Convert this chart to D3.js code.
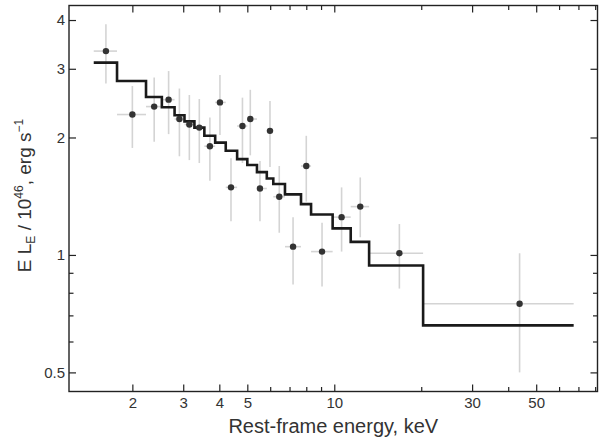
<!DOCTYPE html>
<html>
<head>
<meta charset="utf-8">
<script src="https://cdn.jsdelivr.net/npm/d3@7"></script>
<style>
  body { margin: 0; background: #fff; }
  svg text { font-family: "Liberation Sans", Arial, sans-serif; fill: #333; }
</style>
</head>
<body>
<svg id="chart" width="610" height="439"></svg>
<script>
// spectral bins (keV) and the model level in each bin
const binEdges = [1.47, 1.77, 2.23, 2.53, 2.80, 3.03, 3.28, 3.55, 3.87, 4.21, 4.61, 5.00, 5.40, 5.84, 6.15, 6.75, 7.67, 8.31, 9.87, 11.4, 13.2, 20.3, 67.4];
const modelLevels = [3.11, 2.79, 2.54, 2.39, 2.28, 2.20, 2.12, 2.02, 1.94, 1.85, 1.76, 1.70, 1.63, 1.57, 1.52, 1.43, 1.35, 1.27, 1.17, 1.08, 0.94, 0.66];

// measured points, one per bin
const pointEnergy = [1.62, 2.00, 2.38, 2.67, 2.91, 3.15, 3.41, 3.71, 4.02, 4.39, 4.81, 5.12, 5.53, 5.99, 6.45, 7.20, 8.00, 9.07, 10.6, 12.3, 16.8, 43.8];
const pointLum = [3.33, 2.29, 2.40, 2.50, 2.23, 2.16, 2.12, 1.90, 2.46, 1.49, 2.14, 2.23, 1.48, 2.08, 1.41, 1.05, 1.69, 1.02, 1.25, 1.33, 1.01, 0.75];
const lumHigh = [3.90, 2.71, 2.85, 2.96, 2.67, 2.57, 2.51, 2.25, 2.89, 1.77, 2.53, 2.65, 1.74, 2.48, 1.69, 1.25, 2.02, 1.21, 1.49, 1.58, 1.20, 1.01];
const lumLow = [2.75, 1.88, 1.95, 2.04, 1.79, 1.75, 1.72, 1.55, 2.03, 1.22, 1.72, 1.80, 1.22, 1.68, 1.14, 0.84, 1.37, 0.83, 1.02, 1.11, 0.82, 0.50];

// ticks
const xMajor = [2, 3, 4, 5, 10, 30, 50];
const xMinor = [6, 7, 8, 9, 20, 40, 60, 70, 80];
const yMajor = [0.5, 1, 2, 3, 4];
const yMinor = [0.6, 0.7, 0.8, 0.9];

const margin = {top: 5.5, right: 12.5, bottom: 47.5, left: 69};
const svg = d3.select("#chart");
const width = +svg.attr("width") - margin.left - margin.right;
const height = +svg.attr("height") - margin.top - margin.bottom;

const x = d3.scaleLog().domain([1.207, 81.5]).range([0, width]);
const y = d3.scaleLog().domain([0.4467, 4.358]).range([height, 0]);

const plot = svg.append("g")
  .attr("transform", "translate(" + margin.left + "," + margin.top + ")");

// error bars
const errColor = "#d4d4d4";
plot.selectAll("line.xerr")
  .data(pointEnergy)
  .enter().append("line")
  .attr("class", "xerr")
  .attr("x1", (d, i) => x(binEdges[i]))
  .attr("x2", (d, i) => x(binEdges[i + 1]))
  .attr("y1", (d, i) => y(pointLum[i]))
  .attr("y2", (d, i) => y(pointLum[i]))
  .attr("stroke", errColor)
  .attr("stroke-width", 1.6);

plot.selectAll("line.yerr")
  .data(pointEnergy)
  .enter().append("line")
  .attr("class", "yerr")
  .attr("x1", d => x(d))
  .attr("x2", d => x(d))
  .attr("y1", (d, i) => y(lumHigh[i]))
  .attr("y2", (d, i) => y(lumLow[i]))
  .attr("stroke", errColor)
  .attr("stroke-width", 1.6);

// model histogram
const stepData = binEdges.map((e, i) => [e, modelLevels[Math.min(i, modelLevels.length - 1)]]);
const stepLine = d3.line()
  .x(d => x(d[0]))
  .y(d => y(d[1]))
  .curve(d3.curveStepAfter);

plot.append("path")
  .datum(stepData)
  .attr("d", stepLine)
  .attr("fill", "none")
  .attr("stroke", "#1a1a1a")
  .attr("stroke-width", 2.6);

// points
plot.selectAll("circle")
  .data(pointEnergy)
  .enter().append("circle")
  .attr("cx", d => x(d))
  .attr("cy", (d, i) => y(pointLum[i]))
  .attr("r", 3.2)
  .attr("fill", "#333");

// axes, ticks pointing inward on all four sides
let styleAxis = (g) => {
  g.select(".domain").remove();
  g.selectAll(".tick line").attr("stroke", "#222").attr("stroke-width", 1.2);
  g.selectAll(".tick text").attr("font-size", "15px").attr("fill", "#333");
};

plot.append("g")
  .attr("transform", "translate(0," + height + ")")
  .call(d3.axisBottom(x).tickValues(xMajor).tickFormat(d3.format("d")).tickSizeInner(-7).tickSizeOuter(0).tickPadding(6))
  .call(styleAxis);
plot.append("g")
  .attr("transform", "translate(0," + height + ")")
  .call(d3.axisBottom(x).tickValues(xMinor).tickFormat("").tickSizeInner(-4.5).tickSizeOuter(0))
  .call(styleAxis);
plot.append("g")
  .call(d3.axisTop(x).tickValues(xMajor).tickFormat("").tickSizeInner(-7).tickSizeOuter(0))
  .call(styleAxis);
plot.append("g")
  .call(d3.axisTop(x).tickValues(xMinor).tickFormat("").tickSizeInner(-4.5).tickSizeOuter(0))
  .call(styleAxis);

plot.append("g")
  .call(d3.axisLeft(y).tickValues(yMajor).tickFormat(d3.format("")).tickSizeInner(-7).tickSizeOuter(0).tickPadding(4))
  .call(styleAxis);
plot.append("g")
  .call(d3.axisLeft(y).tickValues(yMinor).tickFormat("").tickSizeInner(-4.5).tickSizeOuter(0))
  .call(styleAxis);
plot.append("g")
  .attr("transform", "translate(" + width + ",0)")
  .call(d3.axisRight(y).tickValues(yMajor).tickFormat("").tickSizeInner(-7).tickSizeOuter(0))
  .call(styleAxis);
plot.append("g")
  .attr("transform", "translate(" + width + ",0)")
  .call(d3.axisRight(y).tickValues(yMinor).tickFormat("").tickSizeInner(-4.5).tickSizeOuter(0))
  .call(styleAxis);

// frame
plot.append("rect")
  .attr("width", width)
  .attr("height", height)
  .attr("fill", "none")
  .attr("stroke", "#222")
  .attr("stroke-width", 1.4);

// axis titles
svg.append("text")
  .attr("x", margin.left + width / 2)
  .attr("y", 433)
  .attr("text-anchor", "middle")
  .attr("font-size", "20px")
  .text("Rest-frame energy, keV");

let yTitle = svg.append("text")
  .attr("transform", "translate(31," + (margin.top + height / 2 - 3) + ") rotate(-90)")
  .attr("text-anchor", "middle")
  .attr("font-size", "19px");
yTitle.append("tspan").text("E L");
yTitle.append("tspan").attr("font-size", "12px").attr("dy", 4).text("E");
yTitle.append("tspan").attr("dy", -4).text(" / 10");
yTitle.append("tspan").attr("font-size", "12px").attr("dy", -8).text("46");
yTitle.append("tspan").attr("dy", 8).text(", erg s");
yTitle.append("tspan").attr("font-size", "12px").attr("dy", -8).text("\u22121");
</script>
</body>
</html>
